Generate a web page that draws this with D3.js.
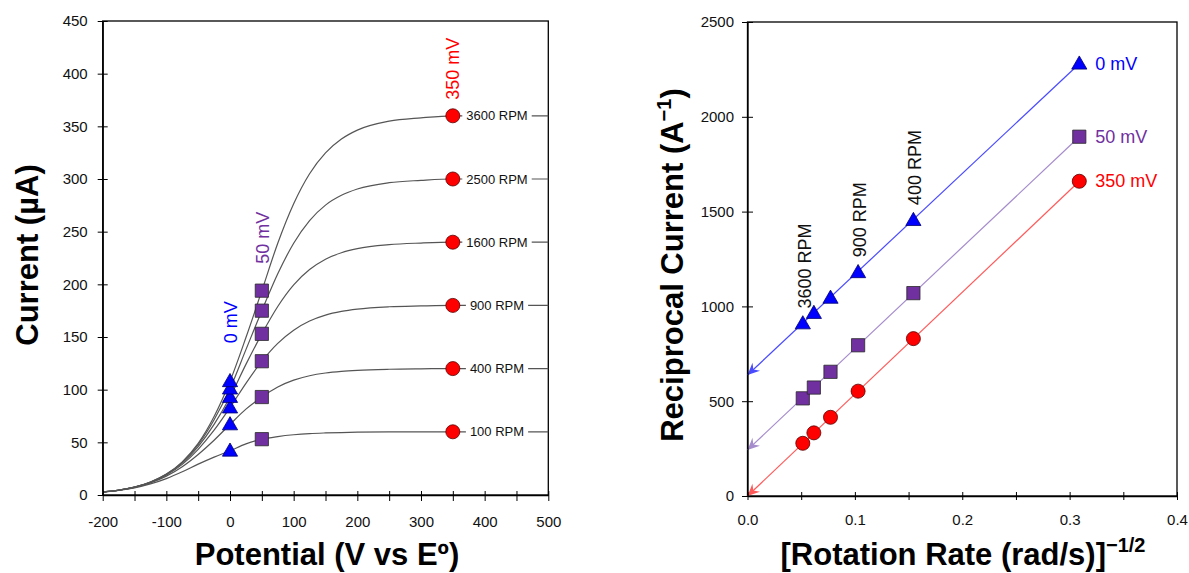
<!DOCTYPE html>
<html><head><meta charset="utf-8">
<script src="https://cdn.jsdelivr.net/npm/d3@7"></script>
<style>
body{margin:0;background:#fff}
text{font-family:"Liberation Sans",Arial,sans-serif}
</style>
</head><body>
<svg id="chart" width="1189" height="573"></svg>
<script>
// ---------- DATA: left panel (current vs potential) ----------
const potentials = [-200,-175,-150,-125,-100,-75,-50,-25,0,25,50,75,100,125,150,175,200,250,300,350,400,450,500];
const rpmNames = ["100 RPM","400 RPM","900 RPM","1600 RPM","2500 RPM","3600 RPM"];
const curve100  = [2.7,4.3,6.8,10.5,15.6,22.0,29.3,36.0,42.0,48.5,53.0,55.5,57.2,58.3,58.9,59.3,59.6,59.9,60,60,60,60,60];
const curve400  = [2.7,4.5,7.2,11.5,17.9,26.9,38.5,52.0,67.0,81.5,93.0,102.5,109.0,113.2,115.8,117.4,118.4,119.4,119.8,120,120,120,120];
const curve900  = [2.8,4.5,7.4,11.9,18.9,29.1,43.4,61.5,83.0,106.0,127.0,144.0,156.5,165.2,170.8,174.3,176.5,178.7,179.5,180,180,180,180];
const curve1600 = [2.8,4.6,7.5,12.1,19.4,30.3,46.0,67.0,93.0,124.0,153.0,179.0,199.5,214.0,223.9,230.0,233.9,237.7,239.2,240,240,240,240];
const curve2500 = [2.8,4.6,7.5,12.3,19.7,31.0,47.8,71.5,101.0,138.0,175.0,210.0,239.0,260.5,275.2,284.5,290.5,296.5,298.7,300,300,300,300];
const curve3600 = [2.8,4.6,7.5,12.4,19.9,31.5,49.0,74.5,108.0,149.5,194.0,239.0,276.5,305.0,324.8,337.9,346.4,354.9,358.1,360,360,360,360];
const curvesLeft = [curve100,curve400,curve900,curve1600,curve2500,curve3600];
const current0mV   = [42,67,83,93,101,108];
const current50mV  = [53,93,127,153,175,194];
const current350mV = [60,120,180,240,300,360];
const leftXTicks = [-200,-150,-100,-50,0,50,100,150,200,250,300,350,400,450,500];
const leftXLabels = ["-200","-100","0","100","200","300","400","500"];
const leftYTicks = [0,50,100,150,200,250,300,350,400,450];

// ---------- DATA: right panel (Koutecky-Levich) ----------
const invRootOmega = [0.0515,0.0618,0.0773,0.1030,0.1545,0.3090]; // 3600,2500,1600,900,400,100 RPM
const recip0mV   = [910,965,1045,1180,1455,2280];
const recip50mV  = [515,572,655,795,1070,1895];
const recip350mV = [278,333,415,553,830,1660];
const fitIntercepts = [638,243,0];
const seriesNames = ["0 mV","50 mV","350 mV"];
const rpmAnnot = [{name:"3600 RPM", idx:0},{name:"900 RPM", idx:3},{name:"400 RPM", idx:4}];
const rightXTicks = [0,0.05,0.1,0.15,0.2,0.25,0.3,0.35,0.4];
const rightXLabels = ["0.0","0.1","0.2","0.3","0.4"];
const rightYTicks = [0,500,1000,1500,2000,2500];

// ---------- STYLES ----------
const BLUE="#0000ff", PURPLE="#7030a0", RED="#ff0000";
const lineCols = ["#4a4aff","#a58ccc","#ff5a5a"];
const markerFill=[BLUE,PURPLE,RED];

const svg = d3.select("#chart");
const defs = svg.append("defs");

function symbolPath(kind){
  if(kind==="tri") return d3.symbol().type(d3.symbolTriangle).size(100)();
  if(kind==="sq") return d3.symbol().type(d3.symbolSquare).size(175)();
  return d3.symbol().type(d3.symbolCircle).size(155)();
}
function drawMarker(g,x,y,kind){
  const fill = kind==="tri"?BLUE:(kind==="sq"?PURPLE:RED);
  const stroke = kind==="tri"?"#000070":(kind==="sq"?"#2a2a2a":"#5a0000");
  g.append("path").attr("d",symbolPath(kind))
   .attr("transform",`translate(${x},${y + (kind==="tri"?1:0)})`)
   .attr("fill",fill).attr("stroke",stroke).attr("stroke-width",0.8);
}
const plainFmt = d => String(d);

// ================= LEFT PANEL =================
const L = {x0:102.7, x1:548.3, y0:495, y1:21};
const xL = d3.scaleLinear().domain([-200,500]).range([L.x0,L.x1]);
const yL = d3.scaleLinear().domain([0,450]).range([L.y0,L.y1]);
const gL = svg.append("g");

gL.append("rect").attr("x",L.x0).attr("y",L.y1).attr("width",L.x1-L.x0).attr("height",L.y0-L.y1)
  .attr("fill","none").attr("stroke","#000").attr("stroke-width",1.3);

const lineGen = d3.line().x((d,i)=>xL(potentials[i])).y(d=>yL(d)).curve(d3.curveMonotoneX);
curvesLeft.forEach(c=>{
  gL.append("path").attr("d",lineGen(c)).attr("fill","none").attr("stroke","#555").attr("stroke-width",1.2);
});

rpmNames.forEach((n,i)=>{
  const t = gL.append("text").attr("x",497).attr("y",yL(current350mV[i])+4.5)
    .attr("text-anchor","middle").attr("font-size",13).attr("fill","#111").text(n);
  const bb = t.node().getBBox();
  gL.insert("rect","text:last-of-type").attr("x",bb.x-4).attr("y",bb.y-1).attr("width",bb.width+8).attr("height",bb.height+2).attr("fill","#fff");
});

const axL = gL.append("g").attr("transform",`translate(${L.x0},0)`)
  .call(d3.axisLeft(yL).tickValues(leftYTicks).tickSize(5).tickPadding(10).tickSizeOuter(0).tickFormat(plainFmt));
axL.selectAll(".tick line").attr("x1",5);
const axB = gL.append("g").attr("transform",`translate(0,${L.y0})`)
  .call(d3.axisBottom(xL).tickValues(leftXTicks).tickSize(6).tickPadding(15).tickSizeOuter(0)
    .tickFormat(d=>leftXLabels.includes(String(d))?String(d):""));
axB.selectAll(".tick line").attr("y1",-4);
[axL,axB].forEach(a=>{
  a.select(".domain").attr("stroke","#000").attr("stroke-width",1.3);
  a.selectAll(".tick line").attr("stroke","#000").attr("stroke-width",1);
  a.selectAll("text").attr("font-size",15).attr("fill","#111").attr("font-family","Liberation Sans, Arial, sans-serif");
});

const gmL = gL.append("g");
current0mV.forEach(v=>drawMarker(gmL,xL(0),yL(v),"tri"));
current50mV.forEach(v=>drawMarker(gmL,xL(50),yL(v),"sq"));
current350mV.forEach(v=>drawMarker(gmL,xL(350),yL(v),"circ"));

function vtext(g,x,y,txt,col,size){
  return g.append("text").attr("transform",`translate(${x},${y}) rotate(-90)`)
   .attr("font-size",size).attr("fill",col).text(txt);
}
vtext(gL,xL(0)+7,yL(d3.max(current0mV))-38,"0 mV",BLUE,18);
vtext(gL,xL(50)+7.5,yL(d3.max(current50mV))-27,"50 mV",PURPLE,18);
vtext(gL,xL(350)+6.5,yL(d3.max(current350mV))-16,"350 mV",RED,18);

gL.append("text").attr("transform","translate(38,255) rotate(-90)").attr("text-anchor","middle")
  .attr("font-size",31).attr("font-weight","bold").attr("fill","#000").text("Current (µA)");
gL.append("text").attr("x",327).attr("y",565).attr("text-anchor","middle")
  .attr("font-size",31).attr("font-weight","bold").attr("fill","#000").text("Potential (V vs Eº)");

// ================= RIGHT PANEL =================
const R = {x0:747.5, x1:1177, y0:496, y1:22};
const xR = d3.scaleLinear().domain([0,0.4]).range([R.x0,R.x1]);
const yR = d3.scaleLinear().domain([0,2500]).range([R.y0,R.y1]);
const gR = svg.append("g");

gR.append("rect").attr("x",R.x0).attr("y",R.y1).attr("width",R.x1-R.x0).attr("height",R.y0-R.y1)
  .attr("fill","none").attr("stroke","#000").attr("stroke-width",1.3);

lineCols.forEach((c,i)=>{
  defs.append("marker").attr("id","arr"+i).attr("viewBox","-13 -7 15 14")
    .attr("refX",0).attr("refY",0).attr("markerWidth",15).attr("markerHeight",14)
    .attr("markerUnits","userSpaceOnUse").attr("orient","auto-start-reverse")
    .append("path").attr("d","M0,0 L-12,-5.5 L-8,0 L-12,5.5 Z").attr("fill",c);
});

const recipSeries = [recip0mV,recip50mV,recip350mV];
recipSeries.forEach((s,i)=>{
  const last = s[s.length-1];
  const lastX = invRootOmega[invRootOmega.length-1];
  gR.append("path").attr("d",d3.line()([[xR(0),yR(fitIntercepts[i])],[xR(lastX),yR(last)]]))
    .attr("stroke",lineCols[i]).attr("stroke-width",1.2).attr("fill","none")
    .attr("marker-start",`url(#arr${i})`);
});

const axRL = gR.append("g").attr("transform",`translate(${R.x0},0)`)
  .call(d3.axisLeft(yR).tickValues(rightYTicks).tickSize(5.5).tickPadding(8).tickSizeOuter(0).tickFormat(plainFmt));
axRL.selectAll(".tick line").attr("x1",5.5);
const axRB = gR.append("g").attr("transform",`translate(0,${R.y0})`)
  .call(d3.axisBottom(xR).tickValues(rightXTicks).tickSize(4).tickPadding(14.5).tickSizeOuter(0)
    .tickFormat(d=>{const s=d.toFixed(2).replace(/0$/,""); return rightXLabels.includes(s)?s:"";}));
axRB.selectAll(".tick line").attr("y1",-4);
[axRL,axRB].forEach(a=>{
  a.select(".domain").attr("stroke","#000").attr("stroke-width",1.3);
  a.selectAll(".tick line").attr("stroke","#000").attr("stroke-width",1);
  a.selectAll("text").attr("font-size",15).attr("fill","#111").attr("font-family","Liberation Sans, Arial, sans-serif");
});

const kinds = ["tri","sq","circ"];
const gmR = gR.append("g");
recipSeries.forEach((s,i)=>{
  s.forEach((v,j)=>drawMarker(gmR,xR(invRootOmega[j]),yR(v),kinds[i]));
});

recipSeries.forEach((s,i)=>{
  gR.append("text").attr("x",xR(invRootOmega[invRootOmega.length-1])+16).attr("y",yR(s[s.length-1])+6)
    .attr("font-size",18).attr("fill",markerFill[i]).text(seriesNames[i]);
});

rpmAnnot.forEach(a=>{
  vtext(gR,xR(invRootOmega[a.idx])+8,yR(recip0mV[a.idx])-15,a.name,"#111",18);
});

const ty = gR.append("text").attr("transform","translate(683,265) rotate(-90)").attr("text-anchor","middle")
  .attr("font-size",31).attr("font-weight","bold").attr("fill","#000");
ty.append("tspan").text("Reciprocal Current (A");
ty.append("tspan").attr("font-size",20).attr("dy",-12).text("−1");
ty.append("tspan").attr("dy",12).text(")");

const tx = gR.append("text").attr("x",963).attr("y",565).attr("text-anchor","middle")
  .attr("font-size",31).attr("font-weight","bold").attr("fill","#000");
tx.append("tspan").text("[Rotation Rate (rad/s)]");
tx.append("tspan").attr("font-size",20).attr("dy",-13).text("−1/2");
</script>
</body></html>
